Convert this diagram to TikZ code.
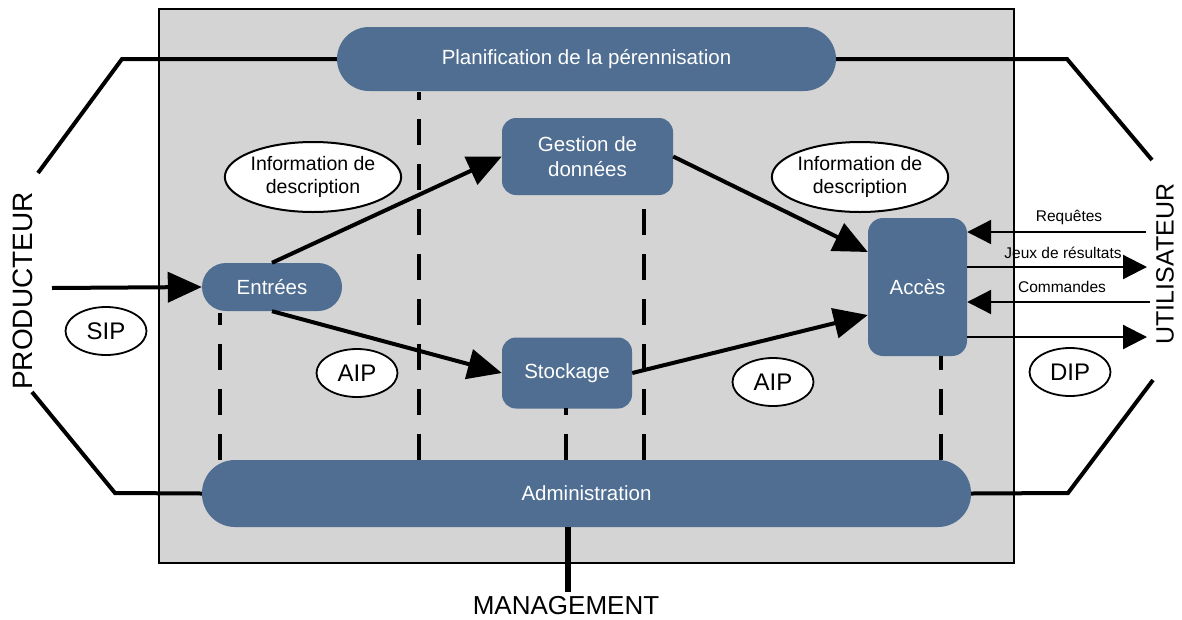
\documentclass[tikz,border=0pt]{standalone}
\usepackage{fontspec}
\setmainfont{Liberation Sans}
\usetikzlibrary{arrows.meta,shapes.geometric,calc}
\definecolor{boxblue}{RGB}{79,110,145}
\definecolor{bggray}{RGB}{212,212,212}
\tikzset{
  block/.style={fill=boxblue,text=white,inner sep=0pt,align=center,font=\fontsize{20.5}{25}\selectfont},
  infoell/.style={ellipse,draw=black,line width=2pt,fill=white,inner sep=0pt,align=center,font=\fontsize{19.5}{23}\selectfont},
  pkg/.style={ellipse,draw=black,line width=1.8pt,fill=white,inner sep=0pt,minimum width=81pt,minimum height=48pt,font=\fontsize{24}{28}\selectfont},
  flow/.style={line width=4pt,-{Triangle[length=34pt,width=30pt]}},
  uflow/.style={line width=2.2pt,-{Triangle[length=24pt,width=24pt]}},
  frame/.style={line width=4pt},
  dline/.style={line width=4pt,dash pattern=on 26pt off 19pt},
  smalllab/.style={font=\fontsize{15.5}{18}\selectfont},
}
\begin{document}
\begin{tikzpicture}[x=1pt,y=-1pt]
\useasboundingbox (0,0) rectangle (1182,619);
% background box
\draw[fill=bggray,line width=2pt] (159,9) rectangle (1014,563);

% nodes
\node[block,rounded corners=32pt,minimum width=499pt,minimum height=64pt] (pl) at (586.5,59) {Planification de la pérennisation};
\node[block,rounded corners=33pt,minimum width=769pt,minimum height=67pt] (adm) at (586.5,493.5) {Administration};
\node[block,rounded corners=24pt,minimum width=140pt,minimum height=48pt] (en) at (272,287) {Entrées};
\node[block,rounded corners=14pt,minimum width=171pt,minimum height=77pt] (ge) at (587.5,156.5) {Gestion de\\données};
\node[block,rounded corners=14pt,minimum width=130pt,minimum height=71pt] (st) at (567,373) {Stockage};
\node[block,rounded corners=15pt,minimum width=99pt,minimum height=138pt] (ac) at (917.5,287) {Accès};

% dashed lines
\coordinate (d1b) at (220,460); \coordinate (d1t) at (220,313);
\coordinate (d2b) at (419,460); \coordinate (d2t) at (419,92);
\coordinate (d3b) at (566,460); \coordinate (d3t) at (566,408);
\coordinate (d4b) at (644,460); \coordinate (d4t) at (644,196);
\coordinate (d5b) at (941,460); \coordinate (d5t) at (941,356);
\draw[dline] (d1b) -- (d1t);
\draw[dline] (d2b) -- (d2t);
\draw[dline] (d3b) -- (d3t);
\draw[dline] (d4b) -- (d4t);
\draw[dline] (d5b) -- (d5t);

% ellipses
\node[infoell,minimum width=170pt,minimum height=70pt] (i1) at (313,177) {Information de\\description};
\node[infoell,minimum width=170pt,minimum height=70pt] (i2) at (860,177) {Information de\\description};
\node[pkg] (sip) at (106,331) {SIP};
\node[pkg] (aip1) at (357,373) {AIP};
\node[pkg] (aip2) at (773,382) {AIP};
\node[pkg] (dip) at (1070,372) {DIP};

% main flows
\draw[flow] (en.north) -- (ge.west);
\draw[flow] (en.south) -- (st.west);
\draw[flow] (ge.east) -- ([yshift=35pt]ac.west);
\draw[flow] (st.east) -- ([yshift=-28pt]ac.west);

% producer side
\coordinate (p0) at (52,288);
\draw[flow] (p0) -- (en.west);
\coordinate (lt1) at (38,173); \coordinate (lt2) at (122,59);
\coordinate (lb1) at (32,392); \coordinate (lb2) at (115,493);
\draw[frame] (lt1) -- (lt2) -- (pl.west);
\draw[frame] (lb1) -- (lb2) -- (adm.west);
\node[rotate=90,font=\fontsize{28}{32}\selectfont] (prod) at (23,291) {PRODUCTEUR};

% user side
\coordinate (rt1) at (1152,160); \coordinate (rt2) at (1067,59);
\coordinate (rb1) at (1153,380); \coordinate (rb2) at (1068,493);
\draw[frame] (pl.east) -- (rt2) -- (rt1);
\draw[frame] (adm.east) -- (rb2) -- (rb1);
\node[rotate=90,font=\fontsize{25}{30}\selectfont] (util) at (1165,264) {UTILISATEUR};

\coordinate (u1) at (1146,232);
\coordinate (u2) at (1147,267);
\coordinate (u3) at (1150,302);
\coordinate (u4) at (1147,337);
\draw[uflow] (u1) -- (u1 -| ac.east);
\draw[uflow] (u2 -| ac.east) -- (u2);
\draw[uflow] (u3) -- (u3 -| ac.east);
\draw[uflow] (u4 -| ac.east) -- (u4);
\node[smalllab] (lq) at (1069,217) {Requêtes};
\node[smalllab] (lj) at (1063,253) {Jeux de résultats};
\node[smalllab] (lc) at (1062,287) {Commandes};

% management
\coordinate (m0) at (568,592);
\draw[line width=6pt] (adm.south -| m0) -- (m0);
\node[font=\fontsize{26}{30}\selectfont] (mg) at (566,606) {MANAGEMENT};
\end{tikzpicture}
\end{document}
